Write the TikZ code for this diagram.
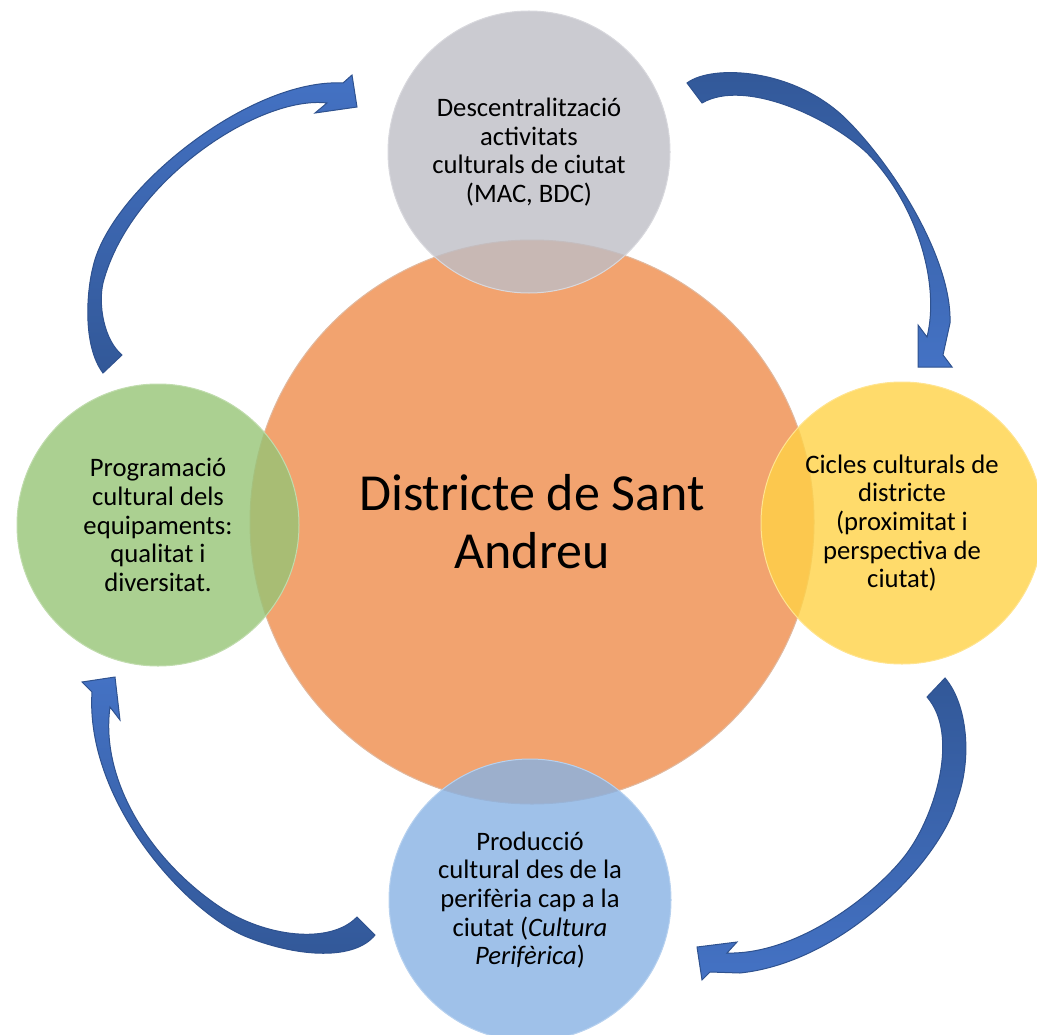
\documentclass[tikz,border=0pt]{standalone}
\usepackage{fontspec}
\setmainfont{Carlito}

\definecolor{distorange}{RGB}{242,163,111}
\definecolor{descgray}{RGB}{190,190,198}
\definecolor{progreen}{RGB}{150,196,118}
\definecolor{ciclyellow}{RGB}{255,210,70}
\definecolor{prodblue}{RGB}{135,178,228}
\definecolor{arrowlight}{RGB}{68,114,196}
\definecolor{arrowdark}{RGB}{50,88,152}
\definecolor{arrowedge}{RGB}{47,82,143}

\tikzset{every picture/.style={line width=0.75pt}}
\tikzset{
  bubble/.style={circle, inner sep=0pt, minimum size=211.5pt, align=center,
    fill opacity=0.8, text opacity=1, font=\fontsize{20}{21.5}\selectfont},
  arcarrow/.style={draw=arrowedge, line width=0.75pt}
}

\begin{document}
\begin{tikzpicture}[x=0.75pt,y=0.75pt,yscale=-1,xscale=1]
\useasboundingbox (0,0) rectangle (1037,1034);

%Shape: Circle [id:dp_dist]
\draw (532,522) node (dist) [circle, inner sep=0pt, minimum size=423pt, fill=distorange, draw=distorange!85!black!60, align=center, font=\fontsize{39}{43.5}\selectfont] {Districte de Sant\\Andreu};

%Shape: Circle [id:dp_desc]
\draw (529,152) node (desc) [bubble, fill=descgray, draw=descgray!60] {Descentralització\\activitats\\culturals de ciutat\\(MAC, BDC)};
%Shape: Circle [id:dp_cicl]
\draw (902,523) node (cicl) [bubble, fill=ciclyellow, draw=ciclyellow!60] {Cicles culturals de\\districte\\(proximitat i\\perspectiva de\\ciutat)};
%Shape: Circle [id:dp_prod]
\draw (530,900) node (prod) [bubble, fill=prodblue, draw=prodblue!60] {Producció\\cultural des de la\\perifèria cap a la\\ciutat (\textit{Cultura}\\\textit{Perifèrica})};
%Shape: Circle [id:dp_prog]
\draw (158,525) node (prog) [bubble, fill=progreen, draw=progreen!60] {Programació\\cultural dels\\equipaments:\\qualitat i\\diversitat.};

%Curved Arrow [id:da_prog_desc]
\draw [arcarrow, top color=arrowlight, bottom color=arrowdark] (103,373) .. controls (82,345) and (87,290) .. (93,267) .. controls (110,190) and (250,78) .. (343,83) -- (352,75) -- (357,107) -- (315,113) -- (327,103) .. controls (260,95) and (130,180) .. (103,283) .. controls (98,305) and (104,340) .. (122,355) -- cycle ;
%Curved Arrow [id:da_desc_cicl]
\draw [arcarrow, top color=arrowdark, bottom color=arrowlight] (687,83) .. controls (712,64) and (795,68) .. (847,120) .. controls (895,168) and (952,260) .. (950,323) -- (943,355) -- (952,367) -- (918,367) -- (918,325) -- (927,337) .. controls (940,285) and (918,205) .. (867,153) .. controls (830,118) and (745,78) .. (702,103) -- cycle ;
%Curved Arrow [id:da_cicl_prod]
\draw [arcarrow, top color=arrowdark, bottom color=arrowlight] (945,678) .. controls (968,705) and (972,760) .. (957,800) .. controls (942,858) and (845,962) .. (740,973) -- (710,972) -- (702,980) -- (697,947) -- (737,942) -- (727,953) .. controls (800,955) and (880,890) .. (907,853) .. controls (935,815) and (960,735) .. (927,697) -- cycle ;
%Curved Arrow [id:da_prod_prog]
\draw [arcarrow, top color=arrowlight, bottom color=arrowdark] (375,935) .. controls (355,960) and (300,958) .. (247,937) .. controls (185,912) and (85,800) .. (92,692) -- (82,682) -- (115,677) -- (120,720) -- (110,707) .. controls (100,780) and (150,860) .. (220,907) .. controls (265,937) and (330,945) .. (357,917) -- cycle ;

\end{tikzpicture}
\end{document}
